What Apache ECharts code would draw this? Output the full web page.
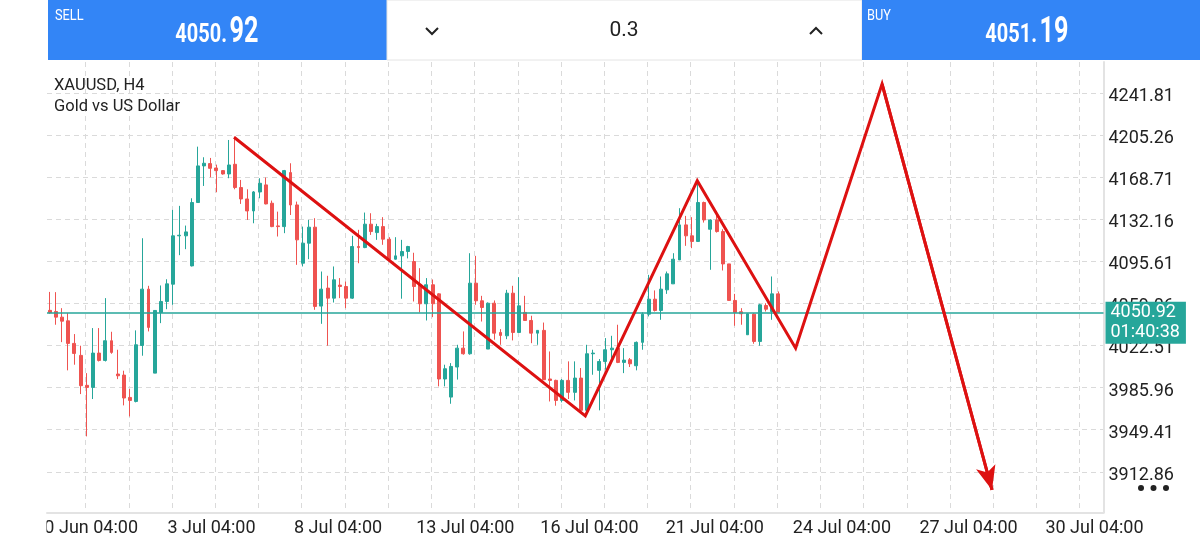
<!DOCTYPE html>
<html><head><meta charset="utf-8">
<script src="https://cdn.jsdelivr.net/npm/echarts@6/dist/echarts.min.js"></script>
<style>html,body{margin:0;padding:0;background:#fff}#c{width:1200px;height:540px}</style>
</head><body><div id="c"></div>
<script>
const symbolName = 'XAUUSD, H4';
const symbolDesc = 'Gold vs US Dollar';
const sellPrice = '4050.92';
const buyPrice = '4051.19';
const lotSize = '0.3';
const lastPrice = 4050.92;
const barTimer = '01:40:38';

const opens = [4053.0,4052.0,4047.1,4043.9,4024.3,4013.9,3987.9,3986.1,4015.9,4009.5,
4026.6,3997.7,3996.8,3977.4,3973.9,4022.5,4071.4,3998.5,4051.2,4060.7,
4075.7,4117.7,4117.7,4091.6,4146.6,4178.4,4180.4,4176.6,4174.3,4171.4,
4179.8,4159.6,4149.7,4139.3,4155.8,4161.9,4146.0,4126.3,4125.7,4172.6,
4144.5,4093.9,4111.3,4125.2,4056.7,4072.3,4063.6,4074.9,4073.7,4063.6,
4108.4,4107.5,4127.8,4120.5,4125.7,4114.8,4097.4,4100.3,4104.1,4095.4,
4075.2,4058.7,4075.2,4067.3,3993.4,3977.7,4003.8,4020.2,4015.3,4076.6,
4061.3,4019.4,4059.2,4033.8,4030.9,4067.9,4033.8,4051.2,4044.2,4033.2,
4035.6,3993.4,3992.2,3974.8,3992.2,3981.8,3994.2,3966.2,4015.3,4000.9,
4008.6,4018.8,4020.2,4007.8,4010.1,4004.9,4025.2,4049.7,4062.7,4052.9,
4070.8,4076.0,4096.8,4127.2,4117.7,4112.8,4146.6,4123.4,4131.5,4121.4,
4093.3,4061.6,4051.8,4031.8,4049.7,4026.0,4057.2,4052.0,4067.3];
const closes = [4051.0,4047.1,4043.6,4024.3,4015.6,3987.6,3986.1,4015.9,4009.5,4026.6,
4016.5,3996.2,3976.9,3974.8,4023.1,4071.4,4038.2,4052.9,4060.7,4076.0,
4117.7,4118.2,4121.1,4146.6,4178.4,4180.7,4176.3,4174.3,4171.4,4179.2,
4159.6,4149.7,4139.3,4155.8,4163.3,4145.4,4125.7,4125.7,4174.3,4144.5,
4114.2,4111.3,4125.2,4056.4,4071.4,4063.6,4079.5,4073.7,4063.6,4108.4,
4107.5,4127.8,4121.4,4125.7,4114.8,4097.4,4100.3,4104.1,4108.4,4073.7,
4058.7,4075.2,4058.7,3993.4,4002.3,4004.3,4020.2,4015.3,4076.6,4061.3,
4055.5,4059.2,4033.2,4031.2,4067.9,4033.8,4056.9,4044.2,4033.2,4035.6,
3992.8,3992.2,3974.8,3992.2,3981.8,3994.2,3966.2,4015.3,4015.9,4008.6,
4018.8,4020.2,4007.8,4009.8,4006.6,4025.2,4049.7,4062.7,4052.9,4071.4,
4084.7,4097.4,4127.2,4117.7,4112.8,4146.6,4131.5,4131.5,4121.4,4093.3,
4061.6,4051.2,4050.0,4050.0,4026.0,4057.8,4054.0,4067.3,4050.9];
const lows = [4050.0,4040.5,4025.4,4000.9,4005.8,3980.3,3943.6,3976.0,4008.6,4008.6,
4015.3,3993.3,3970.5,3960.9,3973.1,4013.6,4034.7,3998.5,4041.9,4054.0,
4057.8,4100.9,4106.1,4091.1,4146.6,4161.0,4168.5,4155.5,4170.8,4167.7,
4158.1,4145.4,4131.5,4128.6,4150.3,4145.0,4125.2,4117.1,4120.0,4135.8,
4092.5,4091.1,4097.4,4053.5,4041.3,4022.3,4059.8,4063.6,4054.9,4063.0,
4093.9,4107.0,4118.5,4114.2,4109.9,4096.3,4097.0,4063.1,4098.1,4060.7,
4051.2,4044.2,4047.1,3987.0,3987.0,3971.9,3992.9,4014.5,4014.5,4057.8,
4043.3,4019.4,4027.5,4023.1,4028.0,4026.9,4033.5,4044.0,4024.5,4023.1,
3992.5,3973.9,3970.2,3973.1,3976.0,3974.8,3966.0,3965.3,3997.1,3966.2,
4001.5,4007.2,4007.2,3998.5,4003.8,4000.9,4018.8,4047.7,4052.0,4044.8,
4067.3,4076.0,4096.8,4109.0,4107.0,4112.8,4129.2,4088.2,4120.5,4087.6,
4061.6,4039.6,4040.5,4031.8,4024.0,4022.3,4052.0,4044.8,4050.6];
const highs = [4069.0,4068.8,4054.9,4050.6,4032.4,4022.3,3998.5,4037.6,4037.6,4063.6,
4034.4,4018.8,4000.6,3984.7,4035.6,4115.6,4074.3,4052.9,4074.6,4080.0,
4140.2,4143.7,4126.6,4150.3,4195.1,4185.9,4185.3,4179.5,4174.8,4200.9,
4203.8,4166.2,4158.1,4156.6,4167.7,4168.3,4148.3,4138.7,4174.9,4180.7,
4147.4,4125.7,4131.5,4133.0,4086.7,4083.0,4091.1,4081.0,4078.0,4117.7,
4122.9,4137.9,4137.3,4128.1,4133.9,4116.5,4116.5,4114.2,4109.0,4103.0,
4089.6,4081.0,4079.8,4067.9,4005.8,4007.2,4023.1,4034.7,4102.6,4100.3,
4065.6,4059.9,4061.6,4036.7,4070.8,4074.3,4081.8,4065.6,4048.3,4035.9,
4042.4,4017.3,3992.8,3993.4,4008.7,4008.7,4002.9,4023.1,4018.8,4010.7,
4028.9,4030.9,4040.5,4020.2,4011.6,4026.0,4051.2,4083.8,4070.3,4082.4,
4086.7,4102.6,4141.7,4135.0,4133.9,4163.3,4147.4,4132.1,4135.8,4123.4,
4093.3,4067.3,4054.9,4050.5,4050.6,4058.7,4059.2,4082.4,4069.4];

const yTicks = [4241.81,4205.26,4168.71,4132.16,4095.61,4059.06,4022.51,3985.96,3949.41,3912.86];
const xLabelPos = [5.9,26.2,46.7,67.3,87.4,107.7,128.3,148.8,169.2];
const xLabelText = ['30 Jun 04:00','3 Jul 04:00','8 Jul 04:00','13 Jul 04:00','16 Jul 04:00','21 Jul 04:00','24 Jul 04:00','27 Jul 04:00','30 Jul 04:00'];
const xGridPos = [5.8,12.8,19.8,26.8,33.8,40.8,47.8,54.8,61.8,68.8,75.8,82.8,89.8,96.8,103.8,110.8,117.8,124.8,131.8,138.8,145.8,152.8,159.8,166.8];

const projIdx = [29.85,86.74,104.87,120.8,134.8,152.6];
const projVal = [4203.3,3961.3,4165.6,4020.1,4249.5,3897.1];

const candleData = opens.map((o, i) => [i, o, closes[i], lows[i], highs[i]]);
const projData = projIdx.map((x, i) => [x, projVal[i]]);
const n = projIdx.length;

const BLUE = '#3385f6';
const UP = '#26a69a', DOWN = '#ef5350', RED = '#dd1111';
const sp = sellPrice.split('.'), bp = buyPrice.split('.');

const chart = echarts.init(document.getElementById('c'), null, {renderer: 'canvas'});
chart.setOption({
  animation: false,
  backgroundColor: '#fff',
  textStyle: {fontFamily: 'Roboto'},
  title: {
    text: symbolName, subtext: symbolDesc, left: 54, top: 77, itemGap: 4, padding: 0,
    textStyle: {fontSize: 16.5, fontWeight: 'normal', color: '#222', fontFamily: 'Roboto'},
    subtextStyle: {fontSize: 16.5, color: '#222', fontFamily: 'Roboto'}
  },
  grid: {left: 47, right: 96.5, top: 62, bottom: 27.5, outerBoundsMode: 'none'},
  xAxis: {
    type: 'value', min: -0.44, max: 170.66,
    axisLine: {show: true, onZero: false, lineStyle: {color: '#e3e3e3', width: 2}},
    axisTick: {show: false, customValues: xGridPos},
    splitLine: {show: true, lineStyle: {color: '#dadada', type: [5, 4], width: 1}},
    axisLabel: {
      customValues: xLabelPos, color: '#222', fontSize: 18, fontFamily: 'Roboto', margin: 7,
      formatter: v => { const k = xLabelPos.findIndex(p => Math.abs(p - v) < 1e-6); return k >= 0 ? xLabelText[k] : ''; }
    }
  },
  yAxis: {
    type: 'value', position: 'right', min: 3877.5, max: 4268.6, scale: true,
    axisLine: {show: true, onZero: false, lineStyle: {color: '#e3e3e3', width: 2}},
    axisTick: {show: false, customValues: yTicks},
    splitLine: {show: true, lineStyle: {color: '#dadada', type: [5, 4], width: 1}},
    axisLabel: {customValues: yTicks, color: '#222', fontSize: 18, fontFamily: 'Roboto', margin: 5,
      formatter: v => '{a|' + v.toFixed(2) + '}',
      rich: {a: {fontSize: 18, color: '#222', fontFamily: 'Roboto', padding: [7, 0, 0, 0]}}}
  },
  series: [
    {
      type: 'candlestick', data: candleData, barWidth: 3.4,
      itemStyle: {color: UP, color0: DOWN, borderColor: UP, borderColor0: DOWN, borderWidth: 1},
      markLine: {
        silent: true, symbol: ['none', 'none'],
        lineStyle: {color: UP, width: 1.5, type: 'solid'},
        data: [{yAxis: lastPrice}],
        label: {
          show: true, position: 'end', distance: 2,
          formatter: () => lastPrice.toFixed(2) + '\n' + barTimer,
          backgroundColor: UP, color: '#fff', fontSize: 18, fontFamily: 'Roboto',
          lineHeight: 20, padding: [1, 6, 1, 5], offset: [0, 10]
        }
      }
    },
    {
      type: 'line', data: projData, symbol: 'none', z: 5,
      lineStyle: {color: RED, width: 3, join: 'miter'},
      markLine: {
        silent: true, symbol: ['none', 'arrow'], symbolSize: [15, 24],
        lineStyle: {color: RED, width: 3, type: 'solid'},
        label: {show: false},
        data: [[{coord: [projIdx[n - 2], projVal[n - 2]]}, {coord: [projIdx[n - 1], projVal[n - 1]]}]]
      }
    }
  ],
  graphic: {elements: [
    {type: 'rect', z: 100, shape: {x: -1, y: 514, width: 47.5, height: 30}, style: {fill: '#fff'}},
    {type: 'rect', z: 100, shape: {x: 48, y: 0, width: 339, height: 60}, style: {fill: BLUE}},
    {type: 'text', z: 101, x: 55, y: 16, scaleX: 0.85, style: {text: 'SELL', fill: '#fff', font: '15px Roboto', textVerticalAlign: 'middle'}},
    {type: 'text', z: 101, x: 227, y: 36, scaleX: 0.8, style: {text: sp[0] + '.', fill: '#fff', font: 'bold 25px Roboto', textAlign: 'right', textVerticalAlign: 'middle'}},
    {type: 'text', z: 101, x: 229.5, y: 33, scaleX: 0.7, style: {text: sp[1], fill: '#fff', font: 'bold 36px Roboto', textAlign: 'left', textVerticalAlign: 'middle'}},
    {type: 'rect', z: 100, shape: {x: 387, y: 0, width: 475, height: 60}, style: {fill: '#fff', stroke: '#e4e4e4', lineWidth: 1}},
    {type: 'polyline', z: 101, shape: {points: [[426, 28], [432, 34], [438, 28]]}, style: {stroke: '#222', lineWidth: 2, fill: null}},
    {type: 'polyline', z: 101, shape: {points: [[810, 34], [816, 28], [822, 34]]}, style: {stroke: '#222', lineWidth: 2, fill: null}},
    {type: 'text', z: 101, x: 624, y: 31, style: {text: lotSize, fill: '#222', font: '21px Roboto', textAlign: 'center', textVerticalAlign: 'middle'}},
    {type: 'rect', z: 100, shape: {x: 862, y: 0, width: 338, height: 60}, style: {fill: BLUE}},
    {type: 'text', z: 101, x: 867, y: 16, scaleX: 0.85, style: {text: 'BUY', fill: '#fff', font: '15px Roboto', textVerticalAlign: 'middle'}},
    {type: 'text', z: 101, x: 1037, y: 36, scaleX: 0.8, style: {text: bp[0] + '.', fill: '#fff', font: 'bold 25px Roboto', textAlign: 'right', textVerticalAlign: 'middle'}},
    {type: 'text', z: 101, x: 1039.5, y: 33, scaleX: 0.7, style: {text: bp[1], fill: '#fff', font: 'bold 36px Roboto', textAlign: 'left', textVerticalAlign: 'middle'}},
    {type: 'circle', z: 101, shape: {cx: 1141, cy: 488, r: 3}, style: {fill: '#222'}},
    {type: 'circle', z: 101, shape: {cx: 1153.5, cy: 488, r: 3}, style: {fill: '#222'}},
    {type: 'circle', z: 101, shape: {cx: 1166, cy: 488, r: 3}, style: {fill: '#222'}}
  ]}
});
</script></body></html>
